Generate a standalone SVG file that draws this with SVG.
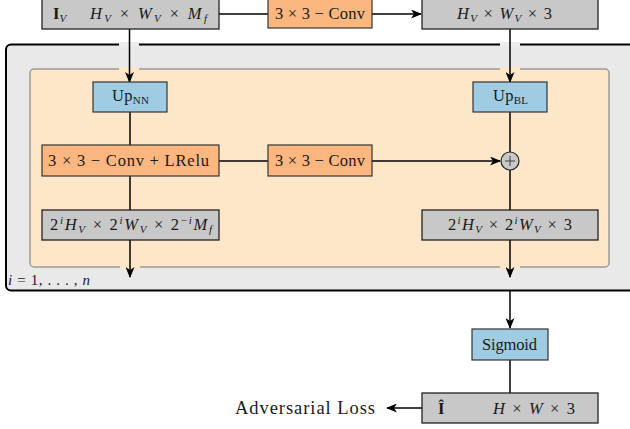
<svg xmlns="http://www.w3.org/2000/svg" width="630" height="429" viewBox="0 0 630 429">
<style>
text{font-family:"Liberation Serif","DejaVu Serif",serif;font-size:16.5px;fill:#1a1a1a}
.gray{fill:#c8c8c8;stroke:#222;stroke-width:1.3}
.org{fill:#fbb77f;stroke:#333;stroke-width:1.2}
.blue{fill:#9fcce3;stroke:#333;stroke-width:1.2}
.c{stroke:#000;stroke-width:1.5;fill:none}
.i{font-style:italic}
.s{font-size:11px}
</style>
<defs>
<marker id="ar" markerWidth="11" markerHeight="9" refX="10" refY="4.5" orient="auto" markerUnits="userSpaceOnUse">
<path d="M0,0 L11,4.5 L0,9 L3,4.5 z" fill="#000"/>
</marker>
</defs>
<rect width="630" height="429" fill="#fff"/>
<g id="outer">
<rect x="6" y="44.5" width="640" height="246" rx="5" fill="#e9e9e9" stroke="#000" stroke-width="2"/>
<rect x="119" y="42" width="20" height="5" fill="#ececec"/>
<rect x="500" y="42" width="20" height="5" fill="#ececec"/>
<text x="8" y="285" class="i" style="font-size:15px" textLength="82" lengthAdjust="spacing">i <tspan font-style="normal">= 1, . . . ,</tspan> n</text>
</g>
<g id="inner">
<rect x="30" y="69" width="579" height="198" rx="4" fill="#fee7c9" stroke="#9a9a9a" stroke-width="1.5"/>
<rect x="119" y="67" width="20" height="4" fill="#fee7c9"/>
<rect x="500" y="67" width="20" height="4" fill="#fee7c9"/>
<rect x="120" y="265" width="20" height="4" fill="#fee7c9"/>
<rect x="500" y="265" width="20" height="4" fill="#fee7c9"/>
</g>
<g id="connectors">
<line class="c" x1="219" y1="14" x2="268" y2="14"/>
<line class="c" x1="372" y1="14" x2="421" y2="14" marker-end="url(#ar)"/>
<line class="c" x1="129.5" y1="29" x2="129.5" y2="82" marker-end="url(#ar)"/>
<line class="c" x1="510" y1="29" x2="510" y2="82" marker-end="url(#ar)"/>
<line class="c" x1="130" y1="112" x2="130" y2="145"/>
<line class="c" x1="219" y1="161" x2="268" y2="161"/>
<line class="c" x1="372" y1="161" x2="500" y2="161" marker-end="url(#ar)"/>
<line class="c" x1="510" y1="112" x2="510" y2="152"/>
<line class="c" x1="510" y1="170" x2="510" y2="210"/>
<line class="c" x1="130" y1="176" x2="130" y2="210"/>
<line class="c" x1="130" y1="240" x2="130" y2="277" marker-end="url(#ar)"/>
<line class="c" x1="510" y1="240" x2="510" y2="277" marker-end="url(#ar)"/>
<line class="c" x1="510" y1="291" x2="510" y2="328" marker-end="url(#ar)"/>
<line class="c" x1="510" y1="360" x2="510" y2="393"/>
<line class="c" x1="422" y1="408" x2="387" y2="408" marker-end="url(#ar)"/>
</g>
<g id="iv">
<rect class="gray" x="42" y="-5" width="177" height="34"/>
<text x="53" y="19"><tspan font-weight="bold">I</tspan><tspan class="s i" dy="3">V</tspan></text>
<text x="90" y="19" textLength="117" lengthAdjust="spacing"><tspan class="i">H</tspan><tspan class="s i" dy="3">V</tspan><tspan dy="-3"> × </tspan><tspan class="i">W</tspan><tspan class="s i" dy="3">V</tspan><tspan dy="-3"> × </tspan><tspan class="i">M</tspan><tspan class="s i" dy="3">f</tspan></text>
</g>
<g id="conv-top">
<rect class="org" x="268" y="-5" width="104" height="33"/>
<text x="275" y="19" textLength="90" lengthAdjust="spacing">3 × 3 − Conv</text>
</g>
<g id="hv3">
<rect class="gray" x="422" y="-5" width="176" height="34"/>
<text x="457" y="19" textLength="95" lengthAdjust="spacing"><tspan class="i">H</tspan><tspan class="s i" dy="3">V</tspan><tspan dy="-3"> × </tspan><tspan class="i">W</tspan><tspan class="s i" dy="3">V</tspan><tspan dy="-3"> × 3</tspan></text>
</g>
<g id="upnn">
<rect class="blue" x="93" y="82" width="74" height="30"/>
<text x="112" y="101" textLength="37" lengthAdjust="spacing">Up<tspan class="s" dy="3">NN</tspan></text>
</g>
<g id="upbl">
<rect class="blue" x="473" y="82" width="74" height="30"/>
<text x="493" y="101" textLength="35" lengthAdjust="spacing">Up<tspan class="s" dy="3">BL</tspan></text>
</g>
<g id="conv-lrelu">
<rect class="org" x="42" y="145" width="177" height="31"/>
<text x="48" y="166" textLength="161" lengthAdjust="spacing">3 × 3 − Conv + LRelu</text>
</g>
<g id="conv-mid">
<rect class="org" x="268" y="145" width="104" height="31"/>
<text x="275" y="166" textLength="90" lengthAdjust="spacing">3 × 3 − Conv</text>
</g>
<g id="plus">
<circle cx="510" cy="161" r="9" fill="#c8c8c8" stroke="#222" stroke-width="1.2"/>
<path d="M505,161 H515 M510,156 V166" stroke="#333" stroke-width="0.9"/>
</g>
<g id="feat-left">
<rect class="gray" x="42" y="210" width="177" height="30"/>
<text x="50" y="230" textLength="162" lengthAdjust="spacing">2<tspan class="s i" dy="-6">i</tspan><tspan class="i" dy="6">H</tspan><tspan class="s i" dy="3">V</tspan><tspan dy="-3"> × 2</tspan><tspan class="s i" dy="-6">i</tspan><tspan class="i" dy="6">W</tspan><tspan class="s i" dy="3">V</tspan><tspan dy="-3"> × 2</tspan><tspan class="s" dy="-6">−</tspan><tspan class="s i">i</tspan><tspan class="i" dy="6">M</tspan><tspan class="s i" dy="3">f</tspan></text>
</g>
<g id="feat-right">
<rect class="gray" x="422" y="210" width="176" height="30"/>
<text x="448" y="230" textLength="124" lengthAdjust="spacing">2<tspan class="s i" dy="-6">i</tspan><tspan class="i" dy="6">H</tspan><tspan class="s i" dy="3">V</tspan><tspan dy="-3"> × 2</tspan><tspan class="s i" dy="-6">i</tspan><tspan class="i" dy="6">W</tspan><tspan class="s i" dy="3">V</tspan><tspan dy="-3"> × 3</tspan></text>
</g>
<g id="sigmoid">
<rect class="blue" x="472" y="329" width="76" height="31"/>
<text x="482" y="350" textLength="55" lengthAdjust="spacing">Sigmoid</text>
</g>
<g id="output">
<rect class="gray" x="422" y="393" width="176" height="30"/>
<text x="438" y="414" font-weight="bold">Î</text>
<text x="493" y="414" textLength="82" lengthAdjust="spacing"><tspan class="i">H</tspan> × <tspan class="i">W</tspan> × 3</text>
</g>
<g id="adv">
<text x="235" y="414" style="font-size:18.5px" textLength="140" lengthAdjust="spacing">Adversarial Loss</text>
</g>
</svg>
